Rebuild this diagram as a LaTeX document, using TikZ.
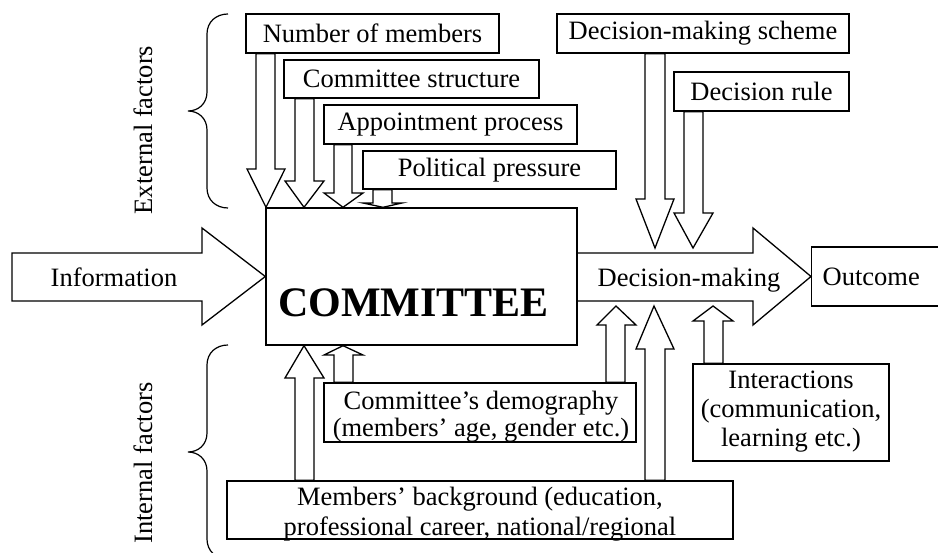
\documentclass[tikz,border=0pt]{standalone}
\usepackage{fontspec}
\setmainfont{Liberation Serif}
\pgfdeclarelayer{background}
\pgfsetlayers{background,main}
\newcommand\fsz{\fontsize{26.5}{27}\selectfont}
\newcommand\twol[1]{\begin{tabular}[t]{@{}c@{}}#1\end{tabular}}
% down block arrow: src, tip point, shaft l, shaft r, head l, head r, tip x, head y
\newcommand\dnarr[8]{\draw[blk] (#3,0 |- #1.south) -- (#3,#8) -- (#5,#8) -- (#7,0 |- #2) -- (#6,#8) -- (#4,#8) -- (#4,0 |- #1.south) -- cycle;}
\newcommand\uparr[8]{\draw[blk] (#3,0 |- #1.north) -- (#3,#8) -- (#5,#8) -- (#7,0 |- #2) -- (#6,#8) -- (#4,#8) -- (#4,0 |- #1.north) -- cycle;}
\begin{document}
\begin{tikzpicture}[x=1pt,y=1pt,
  box/.style={draw, line width=1.4pt, inner sep=0pt, font=\fsz},
  blk/.style={draw, fill=white, line width=1.3pt, line join=miter},
  txt/.style={inner sep=0pt, font=\fsz},
  brc/.style={draw, line width=1.2pt}]
\useasboundingbox (0,0) rectangle (938,-553);
\clip (0,0) rectangle (938,-553);

% top factor boxes
\node[box, minimum width=253, minimum height=39] (nm) at (372.5,-33.5) {Number of members};
\node[box, minimum width=255, minimum height=38] (cs) at (411.5,-79) {Committee structure};
\node[box, minimum width=253, minimum height=39] (ap) at (450.5,-124.5) {Appointment process};
\node[box, minimum width=253, minimum height=38] (pp) at (489.5,-170) {Political pressure};
\node[box, minimum width=292, minimum height=39] (dms) at (703,-33.5) {Decision-making scheme};
\node[box, minimum width=175, minimum height=39] (dr) at (761.5,-91.5) {Decision rule};

% committee
\node[box, minimum width=311, minimum height=137] (com) at (421.5,-276.5) {};
\node[txt, font=\fontsize{42}{42}\selectfont\bfseries, anchor=base] (comlbl) at (413.5,-317) {COMMITTEE};

% outcome
\node[box, anchor=west, minimum height=59, text width=130, align=left, inner xsep=11] (out) at (811,-276.5) {Outcome};

% bottom boxes
\node[box, minimum width=312, minimum height=59] (demo) at (480,-412.5) {};
\node[txt, anchor=base] (demotxt) at (481,-410) {\twol{Committee’s demography\\(members’ age, gender etc.)}};
\node[box, minimum width=506, minimum height=58] (bg) at (480,-510) {};
\node[txt, anchor=base, font=\fontsize{26.5}{30}\selectfont] (bgtxt) at (480,-505) {\twol{Members’ background (education,\\professional career, national/regional}};
\node[box, minimum width=196, minimum height=97] (int) at (791,-412.5) {};
\node[txt, anchor=base, font=\fontsize{26.5}{29}\selectfont] (inttxt) at (791,-389) {\twol{Interactions\\(communication,\\learning etc.)}};

\coordinate (dmtop) at (0,-248);
\coordinate (dmbot) at (0,-306);

\begin{pgfonlayer}{background}
\fill[white] (0,0) rectangle (938,-553);
% information arrow
\draw[blk] (12,-253) -- (202,-253) -- (202,-228) -- (com.west) -- (202,-325) -- (202,-301) -- (12,-301) -- cycle;
% decision-making arrow
\draw[blk] (com.east |- 0,-253) -- (753,-253) -- (753,-228) -- (out.west) -- (753,-325) -- (753,-301) -- (com.east |- 0,-301);
% top arrows
\dnarr{nm}{com.north}{256}{275}{247}{285}{266}{-169}
\dnarr{cs}{com.north}{295}{314}{285}{324}{304}{-181}
\dnarr{ap}{com.north}{334}{352}{324}{363}{343}{-193}
\dnarr{pp}{com.north}{373}{392}{363}{402}{383}{-203}
\dnarr{dms}{dmtop}{645}{665}{636}{674}{655}{-199}
\dnarr{dr}{dmtop}{684}{703}{674}{713}{693}{-213}
% bottom arrows
\uparr{bg}{com.south}{295}{314}{285}{324}{304}{-378}
\uparr{demo}{com.south}{334}{353}{324}{363}{343}{-355}
\uparr{demo}{dmbot}{606}{625}{597}{636}{616}{-325}
\uparr{bg}{dmbot}{645}{665}{636}{674}{654}{-349}
\uparr{int}{dmbot}{704}{723}{693}{733}{713}{-321}
\end{pgfonlayer}

\node[txt, anchor=base] (info) at (114,-287) {Information};
\node[txt, anchor=base] (dmt) at (689,-287) {Decision-making};

% braces
\draw[brc] (228,-14) .. controls (216,-14) and (207,-22) .. (207,-34) -- (207,-92)
  .. controls (207,-104) and (198,-111) .. (188,-111)
  .. controls (198,-111) and (207,-118) .. (207,-130) -- (207,-188)
  .. controls (207,-200) and (216,-208) .. (228,-208);
\draw[brc] (228,-345) .. controls (216,-345) and (207,-353) .. (207,-365) -- (207,-433)
  .. controls (207,-445) and (198,-452) .. (188,-452)
  .. controls (198,-452) and (207,-459) .. (207,-471) -- (207,-539)
  .. controls (207,-551) and (216,-559) .. (228,-559);
\node[txt, rotate=90] (ext) at (143,-130) {External factors};
\node[txt, rotate=90] (intf) at (143,-463) {Internal factors};
\end{tikzpicture}
\end{document}
